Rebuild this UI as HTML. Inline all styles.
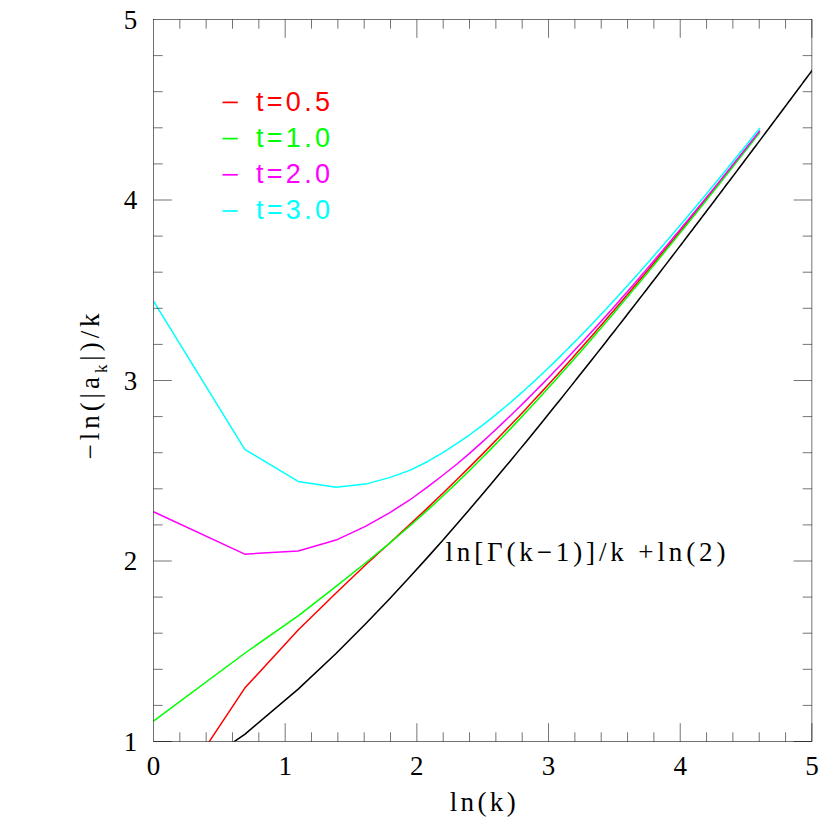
<!DOCTYPE html>
<html><head><meta charset="utf-8"><title>chart</title><style>html,body{margin:0;padding:0;background:#fff;}svg{display:block}</style></head><body><svg width="830" height="830" viewBox="0 0 830 830">
<rect width="830" height="830" fill="#fff"/>
<defs><clipPath id="c"><rect x="153.5" y="19.5" width="658.4" height="722.0"/></clipPath></defs>
<g clip-path="url(#c)" fill="none" stroke-linejoin="round" stroke-linecap="butt">
<polyline stroke="#000" stroke-width="1.55" points="153.50,796.89 244.77,734.33 298.17,689.08 336.05,653.48 365.43,624.06 389.44,598.96 409.74,577.06 427.32,557.62 442.83,540.14 456.70,524.25 469.25,509.69 480.71,496.25 491.25,483.76 501.01,472.10 510.10,461.17 518.59,450.87 526.58,441.14 534.10,431.92 541.22,423.16 547.98,414.81 554.40,406.83 560.53,399.20 566.38,391.89 571.99,384.86 577.36,378.10 582.53,371.59 587.50,365.31 592.28,359.24 596.91,353.37 601.37,347.69 605.69,342.19 609.87,336.85 613.92,331.66 617.85,326.63 621.67,321.73 625.38,316.96 628.99,312.31 632.50,307.79 635.92,303.37 639.25,299.07 642.50,294.86 645.68,290.75 648.77,286.73 651.80,282.80 654.76,278.96 657.66,275.19 660.49,271.51 663.26,267.89 665.97,264.35 668.64,260.88 671.24,257.48 673.80,254.13 676.31,250.85 678.77,247.63 681.19,244.47 683.56,241.36 685.89,238.30 688.18,235.29 690.43,232.34 692.64,229.43 694.82,226.57 696.96,223.75 699.07,220.98 701.14,218.25 703.18,215.56 705.19,212.91 707.17,210.30 709.12,207.72 711.05,205.19 712.94,202.68 714.81,200.22 716.65,197.78 718.47,195.38 720.26,193.01 722.03,190.67 723.77,188.36 725.49,186.08 727.19,183.83 728.87,181.61 730.53,179.41 732.16,177.24 733.78,175.10 735.37,172.98 736.95,170.89 738.51,168.82 740.05,166.77 741.57,164.75 743.08,162.75 744.56,160.77 746.03,158.81 747.49,156.88 748.93,154.96 750.35,153.07 751.76,151.19 753.15,149.34 754.53,147.50 755.90,145.68 757.25,143.88 758.59,142.10 759.91,140.34 761.22,138.59 762.52,136.86 763.80,135.15 765.07,133.45 766.33,131.77 767.58,130.10 768.82,128.45 770.04,126.81 771.26,125.19 772.46,123.58 773.65,121.99 774.83,120.41 776.00,118.85 777.16,117.30 778.31,115.76 779.45,114.23 780.58,112.72 781.70,111.22 782.81,109.74 783.92,108.26 785.01,106.80 786.09,105.35 787.17,103.91 788.23,102.48 789.29,101.06 790.34,99.66 791.38,98.26 792.42,96.88 793.44,95.50 794.46,94.14 795.47,92.79 796.47,91.45 797.46,90.11 798.45,88.79 799.43,87.48 800.40,86.17 801.36,84.88 802.32,83.59 803.27,82.32 804.22,81.05 805.15,79.79 806.08,78.54 807.01,77.30 807.93,76.07 808.84,74.84 809.74,73.63 810.64,72.42 811.53,71.22 812.42,70.03 811.90,70.73"/>
<polyline stroke="#ff0000" stroke-width="1.5" points="153.50,825.61 244.77,688.07 298.17,629.95 336.05,592.95 365.43,564.97 389.44,543.31 409.74,524.63 427.32,508.13 442.83,493.30 456.70,479.79 469.25,467.37 480.71,455.87 491.25,445.14 501.01,435.08 510.10,425.60 518.59,416.65 526.58,408.16 534.10,400.08 541.22,392.37 547.98,385.01 554.40,377.95 560.53,371.18 566.38,364.67 571.99,358.39 577.36,352.35 582.53,346.50 587.50,340.86 592.28,335.39 596.91,330.09 601.37,324.95 605.69,319.96 609.87,315.11 613.92,310.39 617.85,305.79 621.67,301.32 625.38,296.96 628.99,292.70 632.50,288.55 635.92,284.49 639.25,280.53 642.50,276.65 645.68,272.86 648.77,269.15 651.80,265.51 654.76,261.95 657.66,258.47 660.49,255.04 663.26,251.69 665.97,248.40 668.64,245.17 671.24,241.99 673.80,238.88 676.31,235.81 678.77,232.80 681.19,229.84 683.56,226.93 685.89,224.07 688.18,221.25 690.43,218.48 692.64,215.75 694.82,213.06 696.96,210.41 699.07,207.81 701.14,205.24 703.18,202.70 705.19,200.20 707.17,197.74 709.12,195.31 711.05,192.91 712.94,190.55 714.81,188.22 716.65,185.91 718.47,183.64 720.26,181.40 722.03,179.18 723.77,176.99 725.49,174.83 727.19,172.69 728.87,170.58 730.53,168.50 732.16,166.43 733.78,164.40 735.37,162.38 736.95,160.39 738.51,158.42 740.05,156.47 741.57,154.54 743.08,152.64 744.56,150.75 746.03,148.88 747.49,147.04 748.93,145.21 750.35,143.40 751.76,141.61 753.15,139.83 754.53,138.08 755.90,136.34 757.25,134.62 758.59,132.91 759.91,131.22"/>
<polyline stroke="#00ff00" stroke-width="1.5" points="153.50,721.10 244.77,653.24 298.17,615.87 336.05,586.45 365.43,562.99 389.44,543.31 409.74,526.02 427.32,510.37 442.83,496.07 456.70,482.89 469.25,470.68 480.71,459.29 491.25,448.62 501.01,438.59 510.10,429.11 518.59,420.13 526.58,411.60 534.10,403.48 541.22,395.72 547.98,388.30 554.40,381.19 560.53,374.36 566.38,367.79 571.99,361.45 577.36,355.35 582.53,349.45 587.50,343.74 592.28,338.22 596.91,332.86 601.37,327.67 605.69,322.62 609.87,317.72 613.92,312.95 617.85,308.31 621.67,303.79 625.38,299.38 628.99,295.08 632.50,290.89 635.92,286.79 639.25,282.78 642.50,278.87 645.68,275.04 648.77,271.29 651.80,267.62 654.76,264.03 657.66,260.50 660.49,257.05 663.26,253.66 665.97,250.34 668.64,247.08 671.24,243.88 673.80,240.73 676.31,237.64 678.77,234.60 681.19,231.62 683.56,228.68 685.89,225.79 688.18,222.95 690.43,220.15 692.64,217.40 694.82,214.69 696.96,212.02 699.07,209.39 701.14,206.80 703.18,204.24 705.19,201.72 707.17,199.24 709.12,196.79 711.05,194.37 712.94,191.99 714.81,189.64 716.65,187.32 718.47,185.03 720.26,182.77 722.03,180.53 723.77,178.33 725.49,176.15 727.19,174.00 728.87,171.87 730.53,169.77 732.16,167.70 733.78,165.64 735.37,163.61 736.95,161.61 738.51,159.62 740.05,157.66 741.57,155.72 743.08,153.80 744.56,151.90 746.03,150.03 747.49,148.17 748.93,146.33 750.35,144.50 751.76,142.70 753.15,140.92 754.53,139.15 755.90,137.40 757.25,135.67 758.59,133.95 759.91,132.25"/>
<polyline stroke="#ff00ff" stroke-width="1.5" points="153.50,511.72 244.77,554.14 298.17,551.07 336.05,540.06 365.43,526.34 389.44,512.81 409.74,499.99 427.32,487.18 442.83,475.26 456.70,464.25 469.25,453.60 480.71,443.36 491.25,433.72 501.01,424.59 510.10,415.94 518.59,407.71 526.58,399.85 534.10,392.34 541.22,385.14 547.98,378.23 554.40,371.58 560.53,365.18 566.38,359.01 571.99,353.04 577.36,347.28 582.53,341.70 587.50,336.28 592.28,331.04 596.91,325.94 601.37,320.99 605.69,316.17 609.87,311.48 613.92,306.92 617.85,302.46 621.67,298.12 625.38,293.89 628.99,289.75 632.50,285.71 635.92,281.75 639.25,277.89 642.50,274.10 645.68,270.40 648.77,266.77 651.80,263.22 654.76,259.73 657.66,256.31 660.49,252.96 663.26,249.67 665.97,246.44 668.64,243.27 671.24,240.15 673.80,237.09 676.31,234.08 678.77,231.12 681.19,228.20 683.56,225.34 685.89,222.52 688.18,219.74 690.43,217.01 692.64,214.32 694.82,211.67 696.96,209.06 699.07,206.48 701.14,203.94 703.18,201.44 705.19,198.97 707.17,196.54 709.12,194.14 711.05,191.77 712.94,189.43 714.81,187.13 716.65,184.85 718.47,182.60 720.26,180.38 722.03,178.19 723.77,176.02 725.49,173.88 727.19,171.76 728.87,169.67 730.53,167.61 732.16,165.56 733.78,163.54 735.37,161.55 736.95,159.57 738.51,157.62 740.05,155.69 741.57,153.77 743.08,151.88 744.56,150.01 746.03,148.16 747.49,146.33 748.93,144.51 750.35,142.72 751.76,140.94 753.15,139.18 754.53,137.43 755.90,135.71 757.25,134.00 758.59,132.30 759.91,130.63"/>
<polyline stroke="#00ffff" stroke-width="1.5" points="153.50,301.08 244.77,449.45 298.17,481.40 336.05,487.18 365.43,484.11 389.44,477.61 409.74,470.39 427.32,461.73 442.83,452.52 456.70,443.68 469.25,435.01 480.71,426.56 491.25,418.37 501.01,410.44 510.10,402.78 518.59,395.39 526.58,388.27 534.10,381.39 541.22,374.74 547.98,368.32 554.40,362.12 560.53,356.11 566.38,350.29 571.99,344.65 577.36,339.19 582.53,333.88 587.50,328.72 592.28,323.70 596.91,318.82 601.37,314.08 605.69,309.45 609.87,304.94 613.92,300.54 617.85,296.25 621.67,292.05 625.38,287.96 628.99,283.95 632.50,280.04 635.92,276.20 639.25,272.45 642.50,268.78 645.68,265.18 648.77,261.65 651.80,258.19 654.76,254.80 657.66,251.47 660.49,248.20 663.26,244.99 665.97,241.84 668.64,238.74 671.24,235.70 673.80,232.71 676.31,229.76 678.77,226.87 681.19,224.02 683.56,221.22 685.89,218.46 688.18,215.74 690.43,213.06 692.64,210.42 694.82,207.83 696.96,205.26 699.07,202.74 701.14,200.25 703.18,197.79 705.19,195.37 707.17,192.98 709.12,190.63 711.05,188.30 712.94,186.00 714.81,183.73 716.65,181.50 718.47,179.28 720.26,177.10 722.03,174.94 723.77,172.81 725.49,170.71 727.19,168.62 728.87,166.57 730.53,164.53 732.16,162.52 733.78,160.53 735.37,158.56 736.95,156.62 738.51,154.70 740.05,152.79 741.57,150.91 743.08,149.04 744.56,147.20 746.03,145.37 747.49,143.57 748.93,141.78 750.35,140.01 751.76,138.25 753.15,136.52 754.53,134.80 755.90,133.09 757.25,131.40 758.59,129.73 759.91,128.08"/>
</g>
<g stroke="#000" stroke-width="0.55" fill="none">
<rect x="153.5" y="19.5" width="658.40" height="722.00"/>
<path d="M179.84 19.5v9.2M179.84 741.5v-9.2M206.17 19.5v9.2M206.17 741.5v-9.2M232.51 19.5v9.2M232.51 741.5v-9.2M258.84 19.5v9.2M258.84 741.5v-9.2M285.18 19.5v18.3M285.18 741.5v-18.3M311.52 19.5v9.2M311.52 741.5v-9.2M337.85 19.5v9.2M337.85 741.5v-9.2M364.19 19.5v9.2M364.19 741.5v-9.2M390.52 19.5v9.2M390.52 741.5v-9.2M416.86 19.5v18.3M416.86 741.5v-18.3M443.20 19.5v9.2M443.20 741.5v-9.2M469.53 19.5v9.2M469.53 741.5v-9.2M495.87 19.5v9.2M495.87 741.5v-9.2M522.20 19.5v9.2M522.20 741.5v-9.2M548.54 19.5v18.3M548.54 741.5v-18.3M574.88 19.5v9.2M574.88 741.5v-9.2M601.21 19.5v9.2M601.21 741.5v-9.2M627.55 19.5v9.2M627.55 741.5v-9.2M653.88 19.5v9.2M653.88 741.5v-9.2M680.22 19.5v18.3M680.22 741.5v-18.3M706.56 19.5v9.2M706.56 741.5v-9.2M732.89 19.5v9.2M732.89 741.5v-9.2M759.23 19.5v9.2M759.23 741.5v-9.2M785.56 19.5v9.2M785.56 741.5v-9.2M811.90 19.5v18.3M811.90 741.5v-18.3M153.5 741.50h18.3M811.9 741.50h-18.3M153.5 705.40h9.2M811.9 705.40h-9.2M153.5 669.30h9.2M811.9 669.30h-9.2M153.5 633.20h9.2M811.9 633.20h-9.2M153.5 597.10h9.2M811.9 597.10h-9.2M153.5 561.00h18.3M811.9 561.00h-18.3M153.5 524.90h9.2M811.9 524.90h-9.2M153.5 488.80h9.2M811.9 488.80h-9.2M153.5 452.70h9.2M811.9 452.70h-9.2M153.5 416.60h9.2M811.9 416.60h-9.2M153.5 380.50h18.3M811.9 380.50h-18.3M153.5 344.40h9.2M811.9 344.40h-9.2M153.5 308.30h9.2M811.9 308.30h-9.2M153.5 272.20h9.2M811.9 272.20h-9.2M153.5 236.10h9.2M811.9 236.10h-9.2M153.5 200.00h18.3M811.9 200.00h-18.3M153.5 163.90h9.2M811.9 163.90h-9.2M153.5 127.80h9.2M811.9 127.80h-9.2M153.5 91.70h9.2M811.9 91.70h-9.2M153.5 55.60h9.2M811.9 55.60h-9.2"/>
</g>
<g font-family="'Liberation Serif', serif" font-size="27" fill="#000" text-anchor="middle">
<text x="153.5" y="774.7">0</text>
<text x="285.18" y="774.7">1</text>
<text x="416.86" y="774.7">2</text>
<text x="548.54" y="774.7">3</text>
<text x="680.22" y="774.7">4</text>
<text x="811.9" y="774.7">5</text>
<text x="130.4" y="750.5">1</text>
<text x="130.4" y="570">2</text>
<text x="130.4" y="389.5">3</text>
<text x="130.4" y="209">4</text>
<text x="130.4" y="29.3">5</text>
</g>
<text x="445.4" y="561.4" font-family="'Liberation Serif', serif" font-size="27" fill="#000" textLength="280" lengthAdjust="spacing" xml:space="preserve">ln[Γ(k−1)]/k +ln(2)</text>
<text x="449.7" y="810.5" font-family="'Liberation Serif', serif" font-size="27" fill="#000" textLength="66" lengthAdjust="spacing">ln(k)</text>
<g transform="translate(99.4 0) rotate(-90)">
<text x="-459.4" y="0" font-family="'Liberation Serif', serif" font-size="27" fill="#000" textLength="146" lengthAdjust="spacing">−ln(|a<tspan dy="8" font-size="17">k</tspan><tspan dy="-8">|)/k</tspan></text>
</g>
<g font-family="'Liberation Sans', sans-serif" font-size="27">
<text x="256" y="110.6" fill="#ff0000" textLength="74" lengthAdjust="spacing">t=0.5</text>
<text x="256" y="146.8" fill="#00ff00" textLength="74" lengthAdjust="spacing">t=1.0</text>
<text x="256" y="183" fill="#ff00ff" textLength="74" lengthAdjust="spacing">t=2.0</text>
<text x="256" y="219.2" fill="#00ffff" textLength="74" lengthAdjust="spacing">t=3.0</text>
</g>
<path d="M222.5 102.40H237.8" stroke="#ff0000" stroke-width="1.7"/>
<path d="M222.5 138.60H237.8" stroke="#00ff00" stroke-width="1.7"/>
<path d="M222.5 174.80H237.8" stroke="#ff00ff" stroke-width="1.7"/>
<path d="M222.5 211.00H237.8" stroke="#00ffff" stroke-width="1.7"/>
</svg></body></html>
